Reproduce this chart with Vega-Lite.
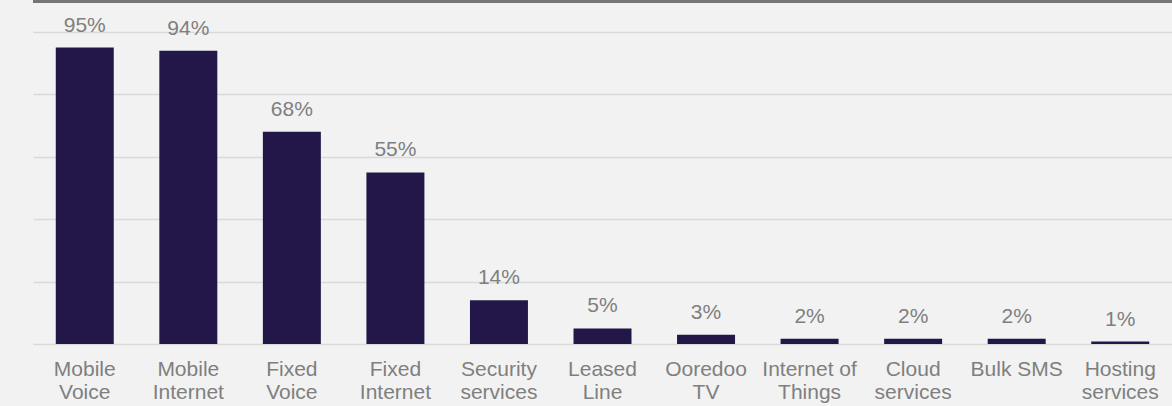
{
  "$schema": "https://vega.github.io/schema/vega-lite/v6.json",
  "width": 1139,
  "height": 312,
  "autosize": {"type": "none"},
  "padding": {"left": 33, "top": 32, "right": 0, "bottom": 62},
  "background": "#F2F2F2",
  "config": {"view": {"stroke": null}, "font": "Liberation Sans"},
  "data": {
    "values": [
      {"service": "Mobile Voice", "value": 95, "label": "95%"},
      {"service": "Mobile Internet", "value": 94, "label": "94%"},
      {"service": "Fixed Voice", "value": 68, "label": "68%"},
      {"service": "Fixed Internet", "value": 55, "label": "55%"},
      {"service": "Security services", "value": 14, "label": "14%"},
      {"service": "Leased Line", "value": 5, "label": "5%"},
      {"service": "Ooredoo TV", "value": 3, "label": "3%"},
      {"service": "Internet of Things", "value": 1.7, "label": "2%"},
      {"service": "Cloud services", "value": 1.7, "label": "2%"},
      {"service": "Bulk SMS", "value": 1.7, "label": "2%"},
      {"service": "Hosting services", "value": 0.8, "label": "1%"}
    ]
  },
  "layer": [
    {
      "mark": {"type": "bar", "color": "#221748"},
      "encoding": {
        "x": {
          "field": "service",
          "type": "nominal",
          "sort": null,
          "scale": {"paddingInner": 0.44, "paddingOuter": 0.22},
          "axis": {
            "title": null,
            "domain": false,
            "ticks": false,
            "labelAngle": 0,
            "labelFontSize": 21,
            "labelColor": "#7F7F7F",
            "labelPadding": 14,
            "labelLineHeight": 23,
            "labelExpr": "datum.value == 'Bulk SMS' ? 'Bulk SMS' : datum.value == 'Internet of Things' ? ['Internet of', 'Things'] : split(datum.value, ' ')"
          }
        },
        "y": {
          "field": "value",
          "type": "quantitative",
          "scale": {"domain": [0, 100]},
          "axis": {
            "title": null,
            "grid": true,
            "gridColor": "#D9D9D9",
            "gridWidth": 1.5,
            "values": [0, 20, 40, 60, 80, 100],
            "labels": false,
            "ticks": false,
            "domain": false
          }
        }
      }
    },
    {
      "mark": {"type": "text", "dy": -16, "baseline": "alphabetic", "align": "center", "fontSize": 21, "color": "#7F7F7F"},
      "encoding": {
        "x": {"field": "service", "type": "nominal", "sort": null},
        "y": {"field": "value", "type": "quantitative"},
        "text": {"field": "label"}
      }
    },
    {
      "data": {"values": [{"top": 109.8}]},
      "mark": {"type": "rule", "color": "#767676", "strokeWidth": 3},
      "encoding": {
        "y": {"field": "top", "type": "quantitative"}
      }
    }
  ]
}
